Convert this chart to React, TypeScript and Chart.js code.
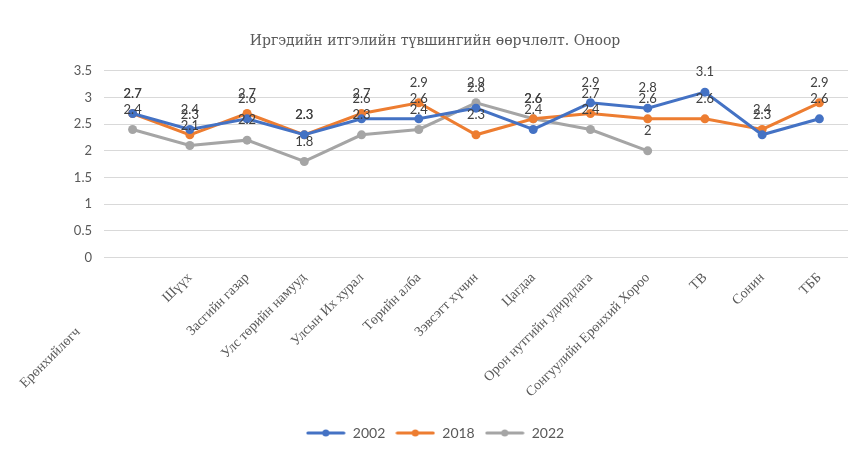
import React, { useEffect, useRef } from "react";
import { Chart, registerables } from "chart.js";

Chart.register(...registerables);

const categories = [
  "Ерөнхийлөгч",
  "Шүүх",
  "Засгийн газар",
  "Улс төрийн намууд",
  "Улсын Их хурал",
  "Төрийн алба",
  "Зэвсэгт хүчин",
  "Цагдаа",
  "Орон нутгийн удирдлага",
  "Сонгуулийн Ерөнхий Хороо",
  "ТВ",
  "Сонин",
  "ТББ",
];

const seriesNames = ["2002", "2018", "2022"];
const values2002 = [2.7, 2.4, 2.6, 2.3, 2.6, 2.6, 2.8, 2.4, 2.9, 2.8, 3.1, 2.3, 2.6];
const values2018 = [2.7, 2.3, 2.7, 2.3, 2.7, 2.9, 2.3, 2.6, 2.7, 2.6, 2.6, 2.4, 2.9];
const values2022 = [2.4, 2.1, 2.2, 1.8, 2.3, 2.4, 2.9, 2.6, 2.4, 2.0, null, null, null];
const seriesColors = ["#4472C4", "#ED7D31", "#A5A5A5"];

const yMin = 0;
const yMax = 3.5;
const yStep = 0.5;

const titleText = "Иргэдийн итгэлийн түвшингийн өөрчлөлт. Оноор";

function makeLegendIcon(color: string): HTMLCanvasElement {
  const c = document.createElement("canvas");
  c.width = 40;
  c.height = 10;
  const g = c.getContext("2d");
  if (g) {
    g.strokeStyle = color;
    g.lineWidth = 3;
    g.lineCap = "round";
    g.beginPath();
    g.moveTo(2, 5);
    g.lineTo(38, 5);
    g.stroke();
    g.fillStyle = color;
    g.beginPath();
    g.arc(20, 5, 3.5, 0, Math.PI * 2);
    g.fill();
  }
  return c;
}

const valueLabels = {
  id: "valueLabels",
  afterDatasetsDraw(chart: any) {
    const ctx = chart.ctx;
    ctx.save();
    ctx.font = "13px Lato";
    ctx.fillStyle = "#404040";
    ctx.textAlign = "center";
    ctx.textBaseline = "middle";
    chart.data.datasets.forEach((ds: any, i: number) => {
      const meta = chart.getDatasetMeta(i);
      meta.data.forEach((pt: any, j: number) => {
        const v = ds.data[j];
        if (v === null || v === undefined) return;
        ctx.fillText(String(v), pt.x, pt.y - 20);
      });
    });
    ctx.restore();
  },
};

export default function App() {
  const canvasRef = useRef<HTMLCanvasElement | null>(null);

  useEffect(() => {
    if (!canvasRef.current) return;
    const allValues = [values2002, values2018, values2022];
    const icons = seriesColors.map((c) => makeLegendIcon(c));
    const chart = new Chart(canvasRef.current, {
      type: "line",
      data: {
        labels: categories,
        datasets: allValues.map((vals, i) => ({
          label: seriesNames[i],
          data: vals,
          borderColor: seriesColors[i],
          backgroundColor: seriesColors[i],
          borderWidth: 3,
          pointRadius: 4.5,
          pointBorderWidth: 0,
          pointBackgroundColor: seriesColors[i],
          tension: 0,
          spanGaps: false,
        })),
      },
      options: {
        responsive: false,
        animation: false,
        layout: { padding: { left: 4, right: 0, top: 0, bottom: 0 } },
        plugins: {
          title: {
            display: true,
            text: titleText,
            color: "#595959",
            font: { family: "DejaVu Serif", size: 14, weight: "normal", lineHeight: 1.2 },
            padding: { top: 33, bottom: 21 },
          },
          legend: {
            position: "bottom",
            labels: {
              usePointStyle: true,
              pointStyleWidth: 40,
              color: "#595959",
              font: { family: "Lato", size: 14 },
              padding: 10,
              generateLabels: (ch: any) =>
                ch.data.datasets.map((ds: any, i: number) => ({
                  text: ds.label,
                  fillStyle: seriesColors[i],
                  strokeStyle: seriesColors[i],
                  lineWidth: 0,
                  pointStyle: icons[i],
                  hidden: false,
                  datasetIndex: i,
                  fontColor: "#595959",
                })),
            },
          },
          tooltip: { enabled: false },
        },
        scales: {
          x: {
            offset: true,
            grid: { display: false, drawTicks: false },
            border: { display: false },
            ticks: {
              autoSkip: false,
              maxRotation: 45,
              minRotation: 45,
              padding: 12,
              color: "#595959",
              font: { family: "Liberation Serif", size: 14 },
              callback: function (this: any, value: any, index: number) {
                const lbl = categories[index];
                return index === 0 ? lbl + " ".repeat(22) : lbl;
              },
            },
            afterFit: (scale: any) => {
              scale.height = 158.5;
            },
          },
          y: {
            min: yMin,
            max: yMax,
            grid: { color: "#D9D9D9", drawTicks: false, lineWidth: 1 },
            border: { display: false },
            ticks: {
              stepSize: yStep,
              padding: 12,
              color: "#595959",
              font: { family: "Lato", size: 13 },
              callback: (v: any) => String(Number(v)),
            },
            afterFit: (scale: any) => {
              scale.width = 100;
            },
          },
          yRight: {
            position: "right",
            display: true,
            min: yMin,
            max: yMax,
            grid: { display: false, drawTicks: false },
            border: { display: false },
            ticks: { display: false },
            afterFit: (scale: any) => {
              scale.width = 18;
            },
          },
        },
      },
      plugins: [valueLabels],
    });
    return () => chart.destroy();
  }, []);

  return (
    <div style={{ position: "fixed", left: 0, top: 0, width: 866, height: 450, background: "#fff" }}>
      <canvas ref={canvasRef} width={866} height={450} style={{ width: 866, height: 450 }} />
    </div>
  );
}
